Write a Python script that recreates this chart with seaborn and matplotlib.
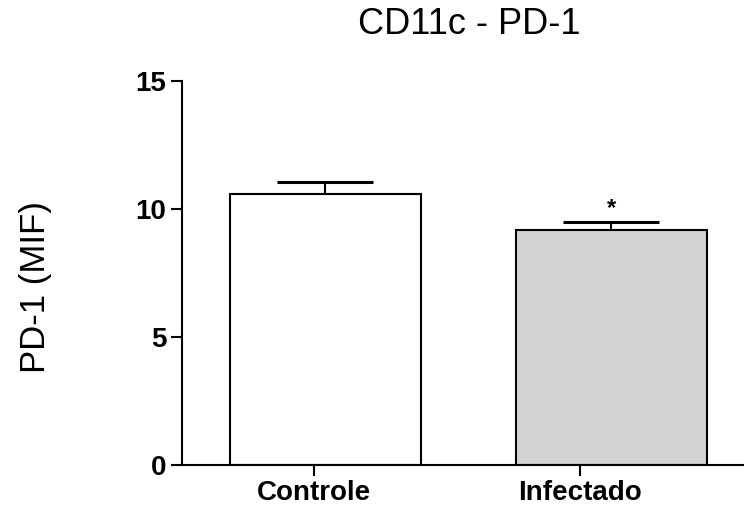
import matplotlib
matplotlib.use("Agg")
import matplotlib.pyplot as plt
import seaborn as sns
import pandas as pd

# Mean fluorescence intensity of PD-1 on CD11c+ cells
groups = ["Controle", "Infectado"]
means = [10.57, 9.18]
sem = [0.47, 0.33]
fills = ["#FFFFFF", "#D3D3D3"]
y_ticks = [0, 5, 10, 15]
significance = ["", "*"]

sns.set_theme(style="ticks")
plt.rcParams["font.family"] = ["Liberation Sans", "DejaVu Sans"]
plt.rcParams["text.color"] = "black"

df = pd.DataFrame({"grupo": groups, "mif": means})

fig = plt.figure(figsize=(7.44, 5.08), dpi=100)
ax = fig.add_axes([0.2442, 0.0846, 0.7558, 0.7559])

sns.barplot(data=df, x="grupo", y="mif", hue="grupo", palette=fills,
            errorbar=None, width=0.667, edgecolor="black", linewidth=1.5,
            legend=False, ax=ax)

# upper-only SEM bars, centred on each bar
centers = [p.get_x() + p.get_width() / 2 for p in ax.patches]
eb = ax.errorbar(centers, means, yerr=[[0] * len(sem), sem], fmt="none",
                 ecolor="black", elinewidth=1.5, capsize=34.6, capthick=2.2,
                 zorder=3)
# hide the lower caps so only the upper whisker remains
eb[1][0].set_visible(False)

for c, m, s, mark in zip(centers, means, sem, significance):
    if mark:
        ax.text(c, m + s + 0.25, mark, ha="center", va="baseline",
                fontsize=17, fontweight="bold", color="black")

ax.set_ylim(0, 15)
ax.set_xlim(-0.502, 1.464)
ax.set_yticks(y_ticks)
ax.set_xticks([-0.038, 0.891])
ax.set_xticklabels(groups)
ax.tick_params(axis="both", length=8, width=1.5, direction="out",
               labelsize=20, pad=3, colors="black")
for lbl in ax.get_xticklabels() + ax.get_yticklabels():
    lbl.set_fontweight("bold")

ax.set_xlabel("")
ax.set_ylabel("")
sns.despine(ax=ax, top=True, right=True)
for side in ("left", "bottom"):
    ax.spines[side].set_linewidth(1.5)
    ax.spines[side].set_color("black")

fig.text(36 / 744, 1 - 287 / 508, "PD-1 (MIF)", rotation=90,
         ha="center", va="center", fontsize=25, color="black")
fig.text(469 / 744, 1 - 25 / 508, "CD11c - PD-1", ha="center",
         va="center", fontsize=26, color="black")

fig.savefig("out.png", dpi=100)
